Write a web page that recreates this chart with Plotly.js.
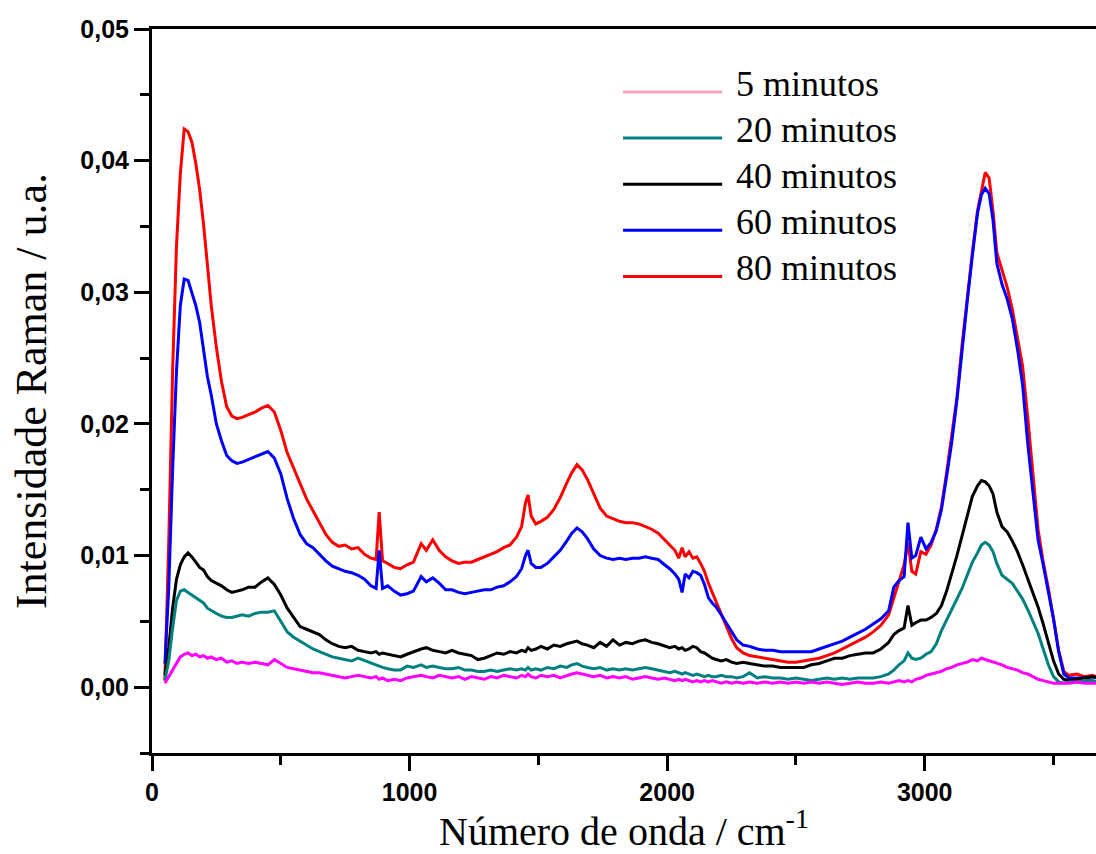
<!DOCTYPE html>
<html>
<head>
<meta charset="utf-8">
<script src="https://cdn.plot.ly/plotly-3.0.1.min.js"></script>
<style>html,body{margin:0;padding:0;background:#fff;}#chart{width:1096px;height:854px;}</style>
</head>
<body>
<div id="chart"></div>
<script>
// Wavenumber grid (cm-1)
const wavenumber = [
  50, 65, 80, 95, 110, 125, 140, 155, 170, 185, 200, 215, 230, 250, 270, 290, 310, 330, 350,
  375, 400, 425, 450, 475, 500, 525, 550, 575, 600, 625, 650, 675, 700, 725, 750, 775, 800, 825, 850,
  870, 882, 895, 915, 940, 965, 990, 1015, 1045, 1065, 1090, 1115, 1140, 1165, 1190, 1215, 1240, 1265, 1290, 1315, 1340, 1365, 1390, 1415,
  1435, 1450, 1460, 1472, 1490, 1510, 1535, 1560, 1585, 1610, 1630, 1650, 1670, 1690, 1715, 1740, 1765, 1790, 1815, 1840, 1865, 1890, 1915, 1940, 1965, 1990,
  2010, 2030, 2045, 2058, 2070, 2085, 2100, 2115, 2130, 2145, 2160, 2175, 2190, 2210, 2230, 2250, 2270, 2295, 2320, 2350, 2380, 2410, 2440, 2470, 2500,
  2530, 2560, 2590, 2620, 2650, 2680, 2710, 2740, 2770, 2800, 2830, 2860, 2880, 2900, 2920, 2935, 2950, 2965, 2985, 3005,
  3025, 3045, 3065, 3085, 3105, 3125, 3145, 3165, 3185, 3205, 3220, 3235, 3250, 3265, 3280, 3300, 3320, 3340, 3360, 3380,
  3400, 3420, 3440, 3460, 3480, 3500, 3520, 3540, 3560, 3590, 3620, 3650, 3680
];

const min80 = [
  0.0005, 0.0110, 0.0240, 0.0335, 0.0390, 0.0424, 0.0422, 0.0414, 0.0398, 0.0378, 0.0352, 0.0318, 0.0290, 0.0258, 0.0232, 0.0213, 0.0206, 0.0204, 0.0205,
  0.0207, 0.0209, 0.0212, 0.0214, 0.0209, 0.0195, 0.0178, 0.0166, 0.0155, 0.0143, 0.0134, 0.0125, 0.0116, 0.0110, 0.0107, 0.0108, 0.0105, 0.0106, 0.0101, 0.0098,
  0.0097, 0.0133, 0.0096, 0.0094, 0.0091, 0.0090, 0.0093, 0.0095, 0.0109, 0.0104, 0.0112, 0.0104, 0.0099, 0.0096, 0.0094, 0.0095, 0.0095, 0.0097, 0.0099, 0.0101, 0.0103, 0.0106, 0.0108, 0.0114,
  0.0122, 0.0140, 0.0146, 0.0130, 0.0124, 0.0126, 0.0129, 0.0135, 0.0144, 0.0155, 0.0163, 0.0169, 0.0165, 0.0158, 0.0147, 0.0136, 0.0130, 0.0128, 0.0126, 0.0125, 0.0125, 0.0124, 0.0122, 0.0120, 0.0117, 0.0112,
  0.0108, 0.0104, 0.0098, 0.0106, 0.0099, 0.0103, 0.0098, 0.0099, 0.0094, 0.0088, 0.0079, 0.0072, 0.0066, 0.0056, 0.0046, 0.0037, 0.0030, 0.0026, 0.0024, 0.0023, 0.0022, 0.0021, 0.0020, 0.0019, 0.0019,
  0.0020, 0.0021, 0.0022, 0.0024, 0.0026, 0.0029, 0.0032, 0.0035, 0.0038, 0.0042, 0.0047, 0.0055, 0.0068, 0.0081, 0.0093, 0.0110, 0.0088, 0.0086, 0.0103, 0.0101,
  0.0108, 0.0120, 0.0137, 0.0163, 0.0190, 0.0220, 0.0260, 0.0296, 0.0330, 0.0362, 0.0378, 0.0391, 0.0387, 0.0362, 0.0330, 0.0317, 0.0304, 0.0287, 0.0265, 0.0244,
  0.0205, 0.0165, 0.0120, 0.0095, 0.0075, 0.0052, 0.0028, 0.0012, 0.0009, 0.0010, 0.0008, 0.0009, 0.0007
];

const min60 = [
  0.0018, 0.0075, 0.0165, 0.0240, 0.0290, 0.0310, 0.0309, 0.0300, 0.0290, 0.0277, 0.0258, 0.0236, 0.0222, 0.0200, 0.0187, 0.0176, 0.0172, 0.0170, 0.0171,
  0.0173, 0.0175, 0.0177, 0.0179, 0.0174, 0.0162, 0.0143, 0.0128, 0.0116, 0.0109, 0.0106, 0.0101, 0.0096, 0.0092, 0.0090, 0.0088, 0.0087, 0.0085, 0.0082, 0.0077,
  0.0075, 0.0104, 0.0075, 0.0077, 0.0073, 0.0070, 0.0071, 0.0073, 0.0084, 0.0080, 0.0083, 0.0079, 0.0074, 0.0074, 0.0072, 0.0071, 0.0072, 0.0073, 0.0074, 0.0074, 0.0076, 0.0077, 0.0080, 0.0084,
  0.0090, 0.0100, 0.0104, 0.0094, 0.0091, 0.0091, 0.0094, 0.0099, 0.0104, 0.0111, 0.0117, 0.0121, 0.0118, 0.0113, 0.0105, 0.0100, 0.0098, 0.0097, 0.0098, 0.0097, 0.0098, 0.0098, 0.0099, 0.0098, 0.0097, 0.0093,
  0.0090, 0.0086, 0.0082, 0.0072, 0.0086, 0.0083, 0.0088, 0.0087, 0.0085, 0.0078, 0.0068, 0.0064, 0.0061, 0.0055, 0.0049, 0.0042, 0.0036, 0.0032, 0.0031, 0.0029, 0.0028, 0.0028, 0.0027, 0.0027, 0.0027,
  0.0027, 0.0027, 0.0029, 0.0031, 0.0033, 0.0035, 0.0038, 0.0041, 0.0044, 0.0048, 0.0052, 0.0058, 0.0076, 0.0081, 0.0084, 0.0125, 0.0098, 0.0100, 0.0114, 0.0105,
  0.0110, 0.0119, 0.0135, 0.0160, 0.0186, 0.0218, 0.0258, 0.0293, 0.0328, 0.0360, 0.0374, 0.0379, 0.0375, 0.0355, 0.0322, 0.0306, 0.0295, 0.0280, 0.0257, 0.0230,
  0.0185, 0.0150, 0.0112, 0.0093, 0.0072, 0.0052, 0.0027, 0.0010, 0.0007, 0.0007, 0.0007, 0.0008, 0.0007
];

const min40 = [
  0.0009, 0.0030, 0.0060, 0.0082, 0.0093, 0.0099, 0.0102, 0.0099, 0.0095, 0.0091, 0.0089, 0.0084, 0.0081, 0.0079, 0.0077, 0.0074, 0.0072, 0.0073, 0.0074,
  0.0076, 0.0076, 0.0080, 0.0083, 0.0078, 0.0070, 0.0060, 0.0053, 0.0046, 0.0044, 0.0042, 0.0040, 0.0036, 0.0033, 0.0031, 0.0030, 0.0031, 0.0028, 0.0027, 0.0026,
  0.0027, 0.0025, 0.0026, 0.0025, 0.0024, 0.0023, 0.0025, 0.0027, 0.0029, 0.0030, 0.0028, 0.0027, 0.0026, 0.0028, 0.0026, 0.0025, 0.0024, 0.0021, 0.0022, 0.0024, 0.0026, 0.0025, 0.0027, 0.0026,
  0.0028, 0.0027, 0.0030, 0.0028, 0.0029, 0.0031, 0.0029, 0.0032, 0.0031, 0.0033, 0.0034, 0.0035, 0.0033, 0.0032, 0.0030, 0.0034, 0.0031, 0.0036, 0.0032, 0.0034, 0.0033, 0.0035, 0.0036, 0.0034, 0.0033, 0.0031,
  0.0030, 0.0031, 0.0029, 0.0030, 0.0028, 0.0029, 0.0031, 0.0030, 0.0027, 0.0026, 0.0024, 0.0022, 0.0021, 0.0020, 0.0021, 0.0019, 0.0018, 0.0019, 0.0018, 0.0017, 0.0016, 0.0016, 0.0015, 0.0015, 0.0015,
  0.0015, 0.0017, 0.0018, 0.0020, 0.0022, 0.0022, 0.0024, 0.0025, 0.0026, 0.0026, 0.0029, 0.0034, 0.0040, 0.0043, 0.0045, 0.0062, 0.0047, 0.0049, 0.0051, 0.0051,
  0.0053, 0.0056, 0.0062, 0.0073, 0.0086, 0.0100, 0.0115, 0.0131, 0.0145, 0.0153, 0.0157, 0.0156, 0.0153, 0.0147, 0.0133, 0.0122, 0.0118, 0.0111, 0.0103, 0.0093,
  0.0082, 0.0072, 0.0061, 0.0048, 0.0033, 0.0020, 0.0010, 0.0006, 0.0005, 0.0006, 0.0007, 0.0008, 0.0007
];

const min20 = [
  0.0005, 0.0020, 0.0045, 0.0066, 0.0073, 0.0074, 0.0072, 0.0070, 0.0068, 0.0066, 0.0064, 0.0060, 0.0058, 0.0056, 0.0054, 0.0053, 0.0053, 0.0054, 0.0055,
  0.0054, 0.0056, 0.0057, 0.0057, 0.0058, 0.0050, 0.0042, 0.0038, 0.0035, 0.0032, 0.0029, 0.0027, 0.0025, 0.0023, 0.0022, 0.0021, 0.0020, 0.0022, 0.0020, 0.0018,
  0.0017, 0.0016, 0.0015, 0.0014, 0.0013, 0.0013, 0.0016, 0.0015, 0.0017, 0.0015, 0.0016, 0.0015, 0.0014, 0.0014, 0.0015, 0.0013, 0.0013, 0.0012, 0.0012, 0.0013, 0.0012, 0.0013, 0.0014, 0.0013,
  0.0014, 0.0013, 0.0015, 0.0013, 0.0014, 0.0013, 0.0015, 0.0014, 0.0016, 0.0015, 0.0017, 0.0018, 0.0016, 0.0015, 0.0014, 0.0015, 0.0013, 0.0014, 0.0013, 0.0014, 0.0013, 0.0014, 0.0015, 0.0014, 0.0013, 0.0012,
  0.0011, 0.0012, 0.0011, 0.0010, 0.0011, 0.0010, 0.0009, 0.0010, 0.0009, 0.0008, 0.0009, 0.0008, 0.0008, 0.0009, 0.0008, 0.0008, 0.0007, 0.0008, 0.0011, 0.0007, 0.0008, 0.0007, 0.0007, 0.0006, 0.0007,
  0.0006, 0.0005, 0.0006, 0.0007, 0.0006, 0.0007, 0.0006, 0.0007, 0.0007, 0.0007, 0.0008, 0.0010, 0.0013, 0.0017, 0.0020, 0.0026, 0.0022, 0.0021, 0.0022, 0.0025,
  0.0027, 0.0033, 0.0043, 0.0051, 0.0058, 0.0066, 0.0075, 0.0085, 0.0095, 0.0102, 0.0108, 0.0110, 0.0108, 0.0103, 0.0094, 0.0085, 0.0082, 0.0079, 0.0073, 0.0067,
  0.0059, 0.0050, 0.0041, 0.0029, 0.0017, 0.0008, 0.0004, 0.0003, 0.0004, 0.0004, 0.0005, 0.0005, 0.0004
];

const min5 = [
  0.0003, 0.0008, 0.0013, 0.0019, 0.0023, 0.0025, 0.0026, 0.0024, 0.0025, 0.0023, 0.0024, 0.0022, 0.0023, 0.0021, 0.0022, 0.0019, 0.0020, 0.0018, 0.0019,
  0.0018, 0.0019, 0.0018, 0.0017, 0.0021, 0.0018, 0.0015, 0.0014, 0.0013, 0.0012, 0.0011, 0.0011, 0.0010, 0.0009, 0.0008, 0.0007, 0.0008, 0.0009, 0.0008, 0.0007,
  0.0008, 0.0006, 0.0007, 0.0005, 0.0006, 0.0005, 0.0007, 0.0008, 0.0009, 0.0008, 0.0007, 0.0009, 0.0008, 0.0007, 0.0008, 0.0006, 0.0008, 0.0007, 0.0006, 0.0008, 0.0007, 0.0009, 0.0008, 0.0007,
  0.0009, 0.0008, 0.0010, 0.0008, 0.0007, 0.0009, 0.0008, 0.0009, 0.0007, 0.0009, 0.0010, 0.0011, 0.0010, 0.0009, 0.0008, 0.0009, 0.0007, 0.0008, 0.0007, 0.0008, 0.0006, 0.0007, 0.0008, 0.0007, 0.0006, 0.0007,
  0.0006, 0.0005, 0.0006, 0.0005, 0.0006, 0.0005, 0.0004, 0.0005, 0.0004, 0.0005, 0.0004, 0.0005, 0.0004, 0.0003, 0.0004, 0.0003, 0.0004, 0.0003, 0.0004, 0.0003, 0.0004, 0.0003, 0.0004, 0.0003, 0.0004,
  0.0003, 0.0004, 0.0003, 0.0004, 0.0003, 0.0002, 0.0003, 0.0004, 0.0003, 0.0003, 0.0004, 0.0003, 0.0004, 0.0005, 0.0004, 0.0005, 0.0004, 0.0006, 0.0007, 0.0009,
  0.0010, 0.0011, 0.0012, 0.0014, 0.0015, 0.0017, 0.0018, 0.0019, 0.0021, 0.0020, 0.0022, 0.0021, 0.0020, 0.0019, 0.0018, 0.0017, 0.0015, 0.0014, 0.0013, 0.0011,
  0.0010, 0.0008, 0.0006, 0.0005, 0.0004, 0.0003, 0.0003, 0.0003, 0.0003, 0.0004, 0.0003, 0.0003, 0.0003
];

const seriesNames = ["5 minutos", "20 minutos", "40 minutos", "60 minutos", "80 minutos"];
const seriesColors = ["#ff00ff", "#008080", "#000000", "#0000ff", "#ff0000"];
const legendColors = ["#f4a6c4", "#008080", "#000000", "#0000ff", "#ff0000"];
const seriesValues = [min5, min20, min40, min60, min80];

// draw order: red first, then blue, black, teal, magenta on top
const drawOrder = [4, 3, 2, 1, 0];
const traces = drawOrder.map(i => ({
  type: "scatter",
  mode: "lines",
  x: wavenumber,
  y: seriesValues[i],
  name: seriesNames[i],
  line: {color: seriesColors[i], width: 3},
  showlegend: false,
  hoverinfo: "skip"
}));

// custom legend (layout decoration)
const legTop = 0.913, legStep = 0.0637;
const shapes = seriesNames.map((n, i) => ({
  type: "line", xref: "paper", yref: "paper",
  x0: 0.499, x1: 0.604, y0: legTop - i * legStep, y1: legTop - i * legStep,
  line: {color: legendColors[i], width: 3}
}));
const annotations = seriesNames.map((n, i) => ({
  xref: "paper", yref: "paper", x: 0.617, y: legTop - i * legStep,
  xanchor: "left", yanchor: "middle", yshift: 8, showarrow: false,
  text: n, font: {family: "Liberation Serif, Times New Roman, serif", size: 36, color: "#000"}
}));

const tickFont = {family: "Liberation Sans, Arial, sans-serif", size: 25, color: "#000", weight: 700};
const layout = {
  width: 1096, height: 854,
  margin: {l: 152, r: 0, t: 29, b: 101},
  paper_bgcolor: "#fff", plot_bgcolor: "#fff",
  separators: ",.",
  showlegend: false,
  xaxis: {
    range: [0, 3665], showgrid: false, zeroline: false,
    showline: true, linecolor: "#000", linewidth: 3, mirror: true,
    ticks: "outside", ticklen: 15, tickwidth: 3, tickcolor: "#000",
    tick0: 0, dtick: 1000, tickfont: tickFont,
    minor: {ticks: "outside", ticklen: 9, tickwidth: 3, tickcolor: "#000", dtick: 500, showgrid: false},
    title: {text: "Número de onda / cm<sup>-1</sup>", font: {family: "Liberation Serif, Times New Roman, serif", size: 40, color: "#000"}, standoff: 14}
  },
  yaxis: {
    range: [-0.005, 0.05], showgrid: false, zeroline: false,
    showline: true, linecolor: "#000", linewidth: 3, mirror: false,
    ticks: "outside", ticklen: 15, tickwidth: 3, tickcolor: "#000",
    tick0: 0, dtick: 0.01, tickformat: ".2f", tickfont: tickFont,
    minor: {ticks: "outside", ticklen: 9, tickwidth: 3, tickcolor: "#000", dtick: 0.005, showgrid: false},
    title: {text: "Intensidade Raman / u.a.", font: {family: "Liberation Serif, Times New Roman, serif", size: 44, color: "#000"}, standoff: 20}
  },
  shapes: shapes,
  annotations: annotations
};

Plotly.newPlot("chart", traces, layout, {staticPlot: true, displayModeBar: false});
</script>
</body>
</html>
